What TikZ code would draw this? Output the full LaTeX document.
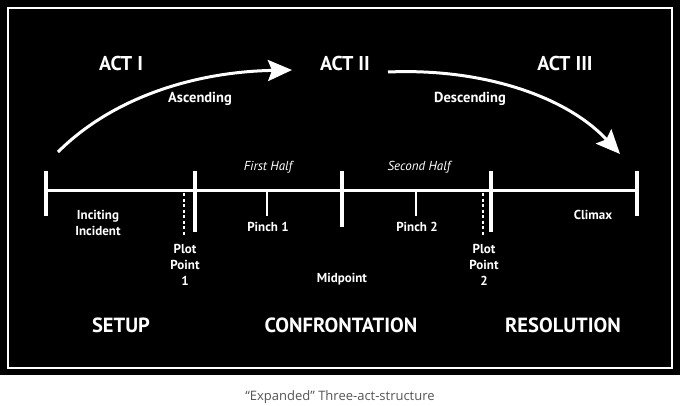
\documentclass[tikz,border=0pt]{standalone}
\usepackage{fontspec}
\setmainfont{PT Sans}
\newfontfamily\capfont{Open Sans}
\usetikzlibrary{arrows.meta}
\definecolor{capgray}{HTML}{555555}
\begin{document}
\begin{tikzpicture}[x=1pt,y=-1pt,
  lbl/.style={text=white,font=\bfseries\fontsize{13}{16}\selectfont,align=center,inner sep=0pt},
  actlbl/.style={text=white,font=\bfseries\fontsize{20}{21}\selectfont,inner sep=0pt},
  partlbl/.style={text=white,font=\bfseries\fontsize{20.5}{22}\selectfont,inner sep=0pt},
  halflbl/.style={text=white,font=\itshape\fontsize{13}{14}\selectfont,inner sep=0pt},
  dirlbl/.style={text=white,font=\bfseries\fontsize{14.5}{15}\selectfont,inner sep=0pt},
  tl/.style={white,line width=3.5pt},
  tick/.style={white,line width=3.5pt},
  smalltick/.style={white,line width=1.5pt},
  dashtick/.style={white,line width=2.5pt,dash pattern=on 3pt off 2.5pt},
  arc/.style={white,line width=3pt,-{Stealth[length=24pt,width=21pt,inset=4pt]}}]
\useasboundingbox (0,0) rectangle (680,405);
\fill[white] (0,0) rectangle (680,405);
\fill[black] (0,0) rectangle (680,375);
\draw[white,line width=1.8pt] (8,8) rectangle (672,368);
% timeline
\coordinate (L) at (46,190.5);
\coordinate (R) at (637,190.5);
\draw[tl] (L) -- (R);
\draw[tick] (46,171) -- (46,216);
\draw[tick] (195,171) -- (195,232);
\draw[tick] (342,171) -- (342,227);
\draw[tick] (491,171) -- (491,232);
\draw[tick] (637,171) -- (637,216);
\draw[dashtick] (184,193) -- (184,236);
\draw[dashtick] (483,193) -- (483,236);
\draw[smalltick] (267,192) -- (267,216);
\draw[smalltick] (416,192) -- (416,216);
% labels
\node[halflbl] (fh) at (268,167) {First Half};
\node[halflbl] (sh) at (419,167) {Second Half};
\node[lbl,align=center] (inc) at (98,223) {Inciting\\Incident};
\node[lbl] (p1) at (268,227) {Pinch 1};
\node[lbl] (p2) at (417,227) {Pinch 2};
\node[lbl] (pp1) at (185,265) {Plot\\Point\\1};
\node[lbl] (pp2) at (484,265) {Plot\\Point\\2};
\node[lbl] (mid) at (342,279) {Midpoint};
\node[lbl] (cl) at (593,215) {Climax};
% acts
\node[actlbl] (a1) at (121,63) {ACT I};
\node[actlbl] (a2) at (345,63) {ACT II};
\node[actlbl] (a3) at (565,63) {ACT III};
\node[dirlbl] (asc) at (200,99) {Ascending};
\node[dirlbl] (desc) at (470,99) {Descending};
% parts
\node[partlbl] (setup) at (121,325) {SETUP};
\node[partlbl] (conf) at (341,325) {CONFRONTATION};
\node[partlbl] (res) at (563,325) {RESOLUTION};
% arcs
\coordinate (s1) at (58,152);
\coordinate (e1) at (292,70);
\coordinate (s2) at (388,72);
\coordinate (e2) at (620,154);
\draw[arc] (s1) .. controls (110,100) and (190,72) .. (e1);
\draw[arc] (s2) .. controls (480,68) and (565,95) .. (e2);
% caption
\node[text=capgray,font=\capfont\fontsize{13}{14}\selectfont,inner sep=0pt] (cap) at (340,397) {“Expanded” Three-act-structure};
\end{tikzpicture}
\end{document}
